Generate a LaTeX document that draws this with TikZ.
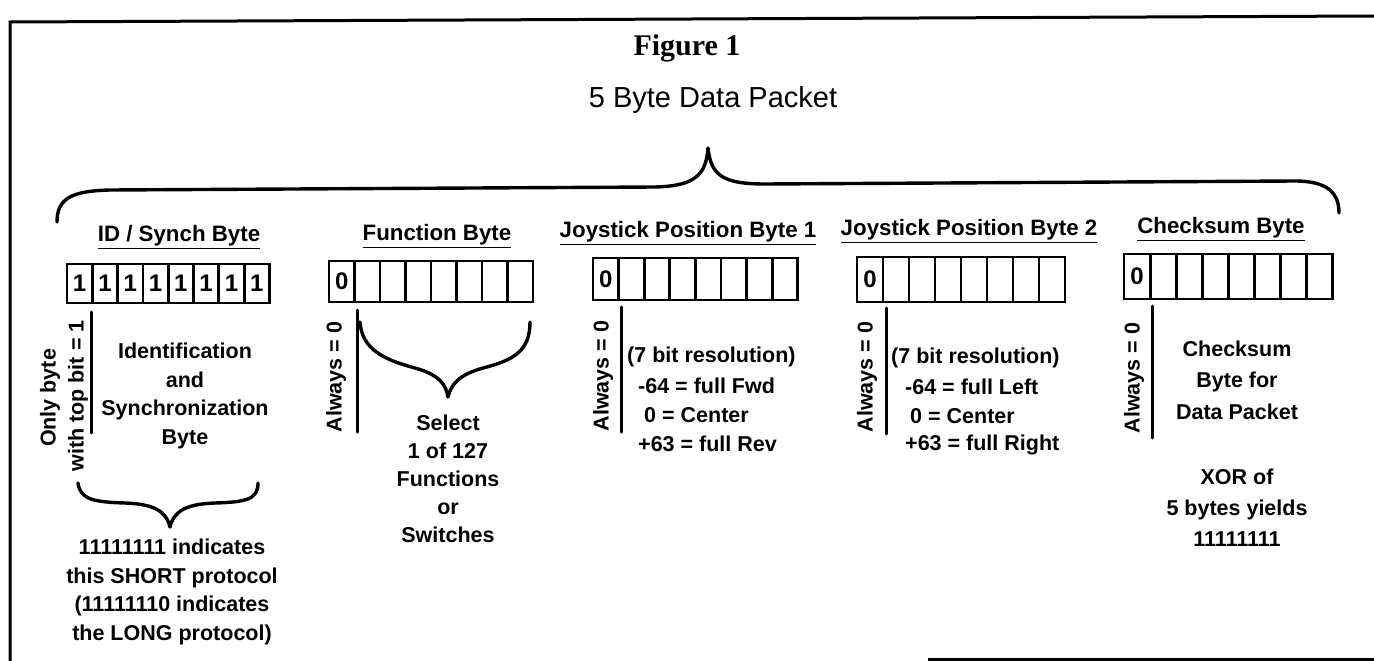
\documentclass[tikz,border=0pt]{standalone}
\usepackage{fontspec}
\setmainfont{Liberation Sans}
\newfontfamily\figserif{Liberation Serif}
\tikzset{
  txt/.style={font=\fontsize{21.5}{28.5}\selectfont\bfseries, inner sep=0pt, align=center},
  lbltxt/.style={txt, font=\fontsize{22.3}{26}\selectfont\bfseries},
  rottxt/.style={txt, rotate=90},
  cell/.style={draw, line width=2.8pt, inner sep=0pt, font=\fontsize{24}{26}\selectfont\bfseries},
  bline/.style={line width=3pt, line cap=round},
  bracepath/.style={line width=3.4pt, line cap=round, line join=round},
  framepath/.style={line width=3pt}
}
\newcommand\bitbox[6]{% prefix, x0, ytop, ybottom, cell width, contents
  \foreach \d [count=\k from 0] in {#6} {
    \node[cell, minimum width=#5, minimum height={#4-#3}] (#1\k) at ({#2+#5*\k+#5/2},{(#3+#4)/2}) {\d};
  }
}
\begin{document}
\begin{tikzpicture}[x=1pt,y=-1pt]
\useasboundingbox (0,0) rectangle (1374,661);
% frame
\draw[framepath] (10,661) -- (10,22) -- (1374,16);
\draw[framepath] (928,659.5) -- (1374,659.5);
% titles
\node[inner sep=0pt, font=\figserif\bfseries\fontsize{30}{34}\selectfont] (fig) at (687,48) {Figure 1};
\node[inner sep=0pt, font=\fontsize{29}{34}\selectfont] (packet) at (713,100) {5 Byte Data Packet};
% big brace
\draw[bracepath] (57,222) .. controls (57,198) and (72,191) .. (110,190) -- (655,187)
  .. controls (695,186) and (706,175) .. (708,148)
  .. controls (711,175) and (722,184) .. (765,184) -- (1295,181)
  .. controls (1330,181) and (1339,195) .. (1339,213);
% labels
\node[lbltxt] (lid) at (179,237) {\underline{ID / Synch Byte}};
\node[lbltxt] (lfn) at (437,236) {\underline{Function Byte}};
\node[lbltxt] (lj1) at (688,233) {\underline{Joystick Position Byte 1}};
\node[lbltxt] (lj2) at (969,231) {\underline{Joystick Position Byte 2}};
\node[lbltxt] (lck) at (1221,229) {\underline{Checksum Byte}};
% bit boxes
\bitbox{id}{67}{264}{303}{25.3}{1,1,1,1,1,1,1,1}
\bitbox{fn}{329}{261}{302}{25.5}{0,{},{},{},{},{},{},{}}
\bitbox{ja}{593}{258}{300}{25.6}{0,{},{},{},{},{},{},{}}
\bitbox{jb}{857}{257}{302}{26}{0,{},{},{},{},{},{},{}}
\bitbox{ck}{1124}{254}{299}{26.1}{0,{},{},{},{},{},{},{}}
% ID section
\node[rottxt] (onlybyte) at (50,398) {Only byte};
\node[rottxt] (withtop) at (78,396) {with top bit = 1};
\draw[bline] (91,312) -- (91,433);
\node[txt] (idtext) at (185,396) {Identification\\and\\Synchronization\\Byte};
\draw[bracepath] (78,483) .. controls (80,500) and (95,502) .. (125,503)
  .. controls (152,504) and (166,510) .. (170,527)
  .. controls (174,510) and (188,504) .. (215,503)
  .. controls (245,502) and (258,500) .. (258,483);
\node[txt] (idbottom) at (172,592) {11111111 indicates\\this SHORT protocol\\(11111110 indicates\\the LONG protocol)};
% Function section
\node[rottxt] (fnzero) at (336,377) {Always = 0};
\draw[bline] (357,310) -- (357,432);
\draw[bracepath] (360,322) .. controls (362,350) and (385,360) .. (415,368)
  .. controls (440,375) and (446,385) .. (448,397)
  .. controls (451,385) and (458,375) .. (483,368)
  .. controls (515,360) and (530,350) .. (530,322);
\node[txt, font=\fontsize{21.5}{28}\selectfont\bfseries] (fntext) at (448,479) {Select\\1 of 127\\Functions\\or\\Switches};
% Joystick 1
\node[rottxt] (jazero) at (603,376) {Always = 0};
\draw[bline] (621,307) -- (621,432);
\node[txt, anchor=west] (ja1) at (627,357) {(7 bit resolution)};
\node[txt, anchor=west] (ja2) at (638,386) {-64 = full Fwd};
\node[txt, anchor=west] (ja3) at (644,415) {0 = Center};
\node[txt, anchor=west] (ja4) at (638,444) {+63 = full Rev};
% Joystick 2
\node[rottxt] (jbzero) at (867,377) {Always = 0};
\draw[bline] (886,308) -- (886,434);
\node[txt, anchor=west] (jb1) at (891,358) {(7 bit resolution)};
\node[txt, anchor=west] (jb2) at (905,387) {-64 = full Left};
\node[txt, anchor=west] (jb3) at (910,416) {0 = Center};
\node[txt, anchor=west] (jb4) at (905,445) {+63 = full Right};
% Checksum
\node[rottxt] (ckzero) at (1134,378) {Always = 0};
\draw[bline] (1152,306) -- (1152,438);
\node[txt, font=\fontsize{21.5}{31.5}\selectfont\bfseries] (cktext) at (1237,380) {Checksum\\Byte for\\Data Packet};
\node[txt, font=\fontsize{21.5}{31}\selectfont\bfseries] (ckxor) at (1237,508) {XOR of\\5 bytes yields\\11111111};
\end{tikzpicture}
\end{document}
